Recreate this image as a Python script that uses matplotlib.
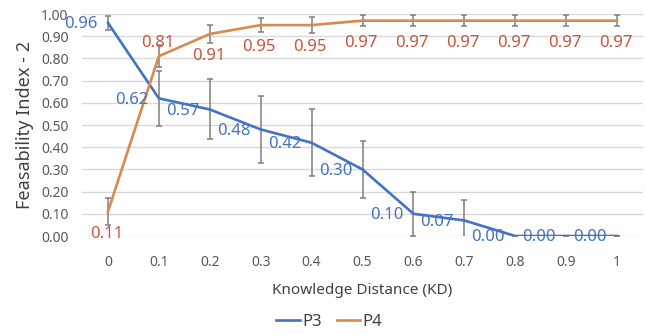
import numpy as np
import matplotlib
matplotlib.use('Agg')
import matplotlib.pyplot as plt

plt.rcParams['font.family'] = ['Noto Sans', 'DejaVu Sans']

# knowledge distance categories
kd = [0, 0.1, 0.2, 0.3, 0.4, 0.5, 0.6, 0.7, 0.8, 0.9, 1]
kd_labels = ['0', '0.1', '0.2', '0.3', '0.4', '0.5', '0.6', '0.7', '0.8', '0.9', '1']

# series values
p3 = [0.96, 0.62, 0.57, 0.48, 0.42, 0.30, 0.10, 0.07, 0.00, 0.00, 0.00]
p3_err = [0.03, 0.125, 0.135, 0.15, 0.15, 0.13, 0.10, 0.09, 0, 0, 0]
p4 = [0.11, 0.81, 0.91, 0.95, 0.95, 0.97, 0.97, 0.97, 0.97, 0.97, 0.97]
p4_err = [0.06, 0.05, 0.04, 0.03, 0.035, 0.025, 0.025, 0.025, 0.025, 0.025, 0.025]

blue = '#4472C4'
orange = '#D68A4C'
red_lbl = '#C8553D'
grey = '#7F7F7F'

fig = plt.figure(figsize=(6.46, 3.35), dpi=100)
ax = fig.add_axes([0.1277, 0.2955, 0.8669, 0.6627])

x = np.arange(len(kd))

# error bars first, lines on top
ax.errorbar(x, p3, yerr=p3_err, fmt='none', ecolor=grey, elinewidth=1.1,
            capsize=2.3, capthick=1.1, zorder=2)
ax.errorbar(x, p4, yerr=p4_err, fmt='none', ecolor=grey, elinewidth=1.1,
            capsize=2.3, capthick=1.1, zorder=2)
ax.plot(x, p3, color=blue, lw=1.9, label='P3', zorder=3)
ax.plot(x, p4, color=orange, lw=1.9, label='P4', zorder=4)

# data labels: P3 to the left, P4 below (second point above)
for xi, v in zip(x, p3):
    ax.annotate(f'{v:.2f}', (xi, v), xytext=(-19.5, -1), textcoords='offset points',
                ha='center', va='center', color=blue, fontsize=12, zorder=5)
for i, (xi, v) in enumerate(zip(x, p4)):
    dy = 9.5 if i == 1 else -16
    ax.annotate(f'{v:.2f}', (xi, v), xytext=(-1, dy), textcoords='offset points',
                ha='center', va='center', color=red_lbl, fontsize=12, zorder=5)

ax.set_xlim(-0.5, len(kd) - 0.5)
ax.set_ylim(0, 1.0)
ax.set_yticks(np.arange(0, 1.01, 0.1))
ax.set_yticklabels([f'{t:.2f}' for t in np.arange(0, 1.01, 0.1)])
ax.set_xticks(x)
ax.set_xticklabels(kd_labels)
ax.tick_params(axis='both', length=0, labelsize=10, colors='#595959')
ax.tick_params(axis='y', pad=10)
ax.tick_params(axis='x', pad=14)
ax.grid(axis='y', color='#D9D9D9', lw=1)
ax.set_axisbelow(True)
for s in ax.spines.values():
    s.set_visible(False)

ax.set_xlabel('Knowledge Distance (KD)', fontsize=11, color='#404040', labelpad=9)
ax.set_ylabel('Feasability Index - 2', fontsize=13, color='#404040', labelpad=5)

fig.legend(loc='center', bbox_to_anchor=(0.51, 0.04), ncol=2, frameon=False,
           fontsize=12, handlelength=1.4, handletextpad=0.15, columnspacing=0.9,
           labelcolor='#404040')

fig.savefig('out.png', dpi=100)
